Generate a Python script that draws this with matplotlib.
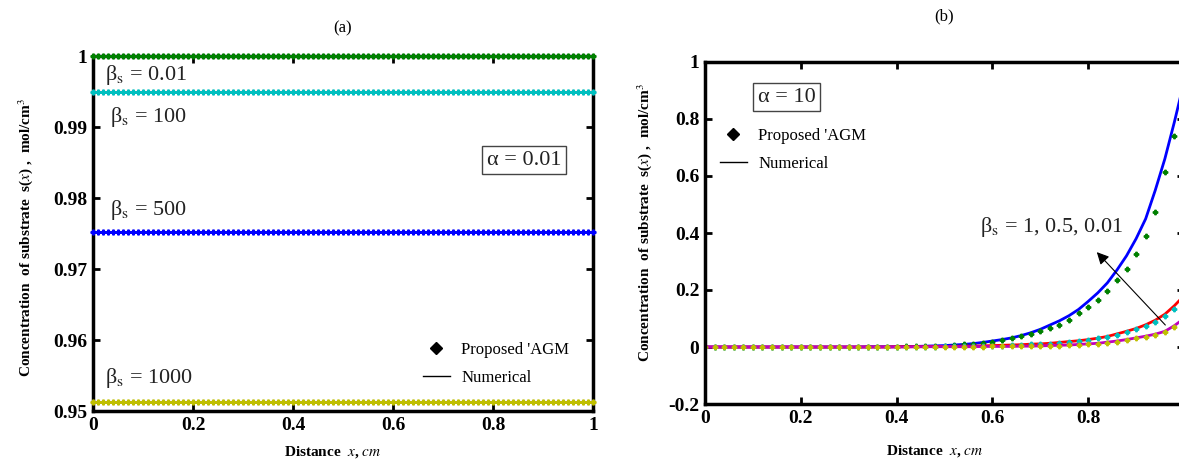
import numpy as np
import matplotlib.pyplot as plt
from matplotlib.lines import Line2D

plt.rcParams['font.family'] = ['Liberation Serif', 'DejaVu Serif']
plt.rcParams['mathtext.fontset'] = 'stix'

# Panel (a): alpha = 0.01, constant profiles for each beta_s
levels_a = [1.0, 0.995, 0.9752, 0.9513]
line_cols_a = ['b', 'r', 'b', 'm']
mark_cols_a = ['g', 'c', 'b', 'y']
labels_a = ['β$_\\mathrm{s}$ = 0.01', 'β$_\\mathrm{s}$ = 100', 'β$_\\mathrm{s}$ = 500', 'β$_\\mathrm{s}$ = 1000']
label_pos_a = [(0.024, 0.9973), (0.034, 0.9914), (0.034, 0.9783), (0.024, 0.9547)]

# Panel (b): alpha = 10, x from 0 to 1 in steps of 0.02
x_b = np.linspace(0, 1, 51)
num_b1 = [0.0]*17 + [0.001, 0.001, 0.001, 0.001, 0.002, 0.002, 0.003, 0.004, 0.005, 0.007,
                     0.009, 0.012, 0.016, 0.021, 0.026, 0.032, 0.040, 0.050, 0.062, 0.077,
                     0.092, 0.110, 0.132, 0.160, 0.190, 0.225, 0.270, 0.320, 0.380, 0.450,
                     0.550, 0.660, 0.790, 0.930]
agm_b1 = [0.0]*19 + [0.001, 0.001, 0.002, 0.002, 0.003, 0.004, 0.005, 0.007, 0.009, 0.011,
                     0.015, 0.019, 0.024, 0.030, 0.037, 0.046, 0.056, 0.067, 0.078, 0.093,
                     0.118, 0.140, 0.165, 0.198, 0.235, 0.275, 0.328, 0.390, 0.475, 0.615,
                     0.740, 0.870]
num_b05 = [0.0]*20 + [0.001, 0.001, 0.001, 0.001, 0.002, 0.002, 0.002, 0.003, 0.003, 0.004,
                      0.005, 0.006, 0.007, 0.008, 0.010, 0.011, 0.013, 0.016, 0.019, 0.022,
                      0.026, 0.031, 0.037, 0.046, 0.055, 0.065, 0.078, 0.094, 0.115, 0.145,
                      0.180]
agm_b05 = [0.0]*20 + [0.001, 0.001, 0.001, 0.001, 0.001, 0.002, 0.002, 0.002, 0.003, 0.003,
                      0.004, 0.005, 0.006, 0.007, 0.009, 0.010, 0.012, 0.015, 0.018, 0.021,
                      0.025, 0.030, 0.035, 0.043, 0.052, 0.062, 0.074, 0.089, 0.108, 0.135,
                      0.165]
num_b001 = [0.0]*20 + [0.000, 0.000, 0.001, 0.001, 0.001, 0.001, 0.001, 0.001, 0.001, 0.002,
                       0.002, 0.002, 0.002, 0.003, 0.003, 0.004, 0.005, 0.006, 0.007, 0.009,
                       0.011, 0.013, 0.017, 0.021, 0.026, 0.032, 0.038, 0.045, 0.055, 0.075,
                       0.100]
agm_b001 = [0.0]*20 + [0.000, 0.000, 0.000, 0.001, 0.001, 0.001, 0.001, 0.001, 0.001, 0.001,
                       0.002, 0.002, 0.002, 0.002, 0.003, 0.003, 0.004, 0.005, 0.006, 0.008,
                       0.010, 0.012, 0.015, 0.019, 0.024, 0.030, 0.036, 0.043, 0.052, 0.071,
                       0.095]

fig = plt.figure(figsize=(11.79, 4.61), dpi=100)
W, H = 1179, 461

def place(x0, x1, y0, y1):
    # pixel box -> figure fraction
    return [x0/W, 1 - y1/H, (x1 - x0)/W, (y1 - y0)/H]

def style(ax):
    for s in ax.spines.values():
        s.set_linewidth(2.5)
    ax.tick_params(direction='in', top=True, right=True, length=5, width=2,
                   labelsize=14, pad=4)
    for t in ax.get_xticklabels() + ax.get_yticklabels():
        t.set_fontweight('bold')

ylab = r'Concentration  of substrate  s($x$) ,  mol/cm$^{3}$'
xlab = r'Distance  $x$, $cm$'
txt_col = '#222222'

# ---------------- panel (a)
axa = fig.add_axes(place(93, 593, 56, 411))
x_a = np.linspace(0, 1, 101)
for lev, lc, mc in zip(levels_a, line_cols_a, mark_cols_a):
    axa.plot(x_a, np.full_like(x_a, lev), color=lc, lw=1.5, clip_on=False, zorder=3)
    axa.plot(x_a, np.full_like(x_a, lev), ls='none', marker='P', ms=3.5, color=mc,
             clip_on=False, zorder=4)
for lab, (tx, ty) in zip(labels_a, label_pos_a):
    axa.text(tx, ty, lab, fontsize=16, va='center', ha='left', color=txt_col)
axa.text(0.862, 0.98535, 'α = 0.01', fontsize=16, ha='center', va='center', color=txt_col,
         bbox=dict(boxstyle='square,pad=0.2', fc='white', ec='#444444', lw=1))
axa.set_xlim(0, 1)
axa.set_ylim(0.95, 1.0)
axa.set_xticks([0, 0.2, 0.4, 0.6, 0.8, 1])
axa.set_xticklabels(['0', '0.2', '0.4', '0.6', '0.8', '1'])
axa.set_yticks([0.95, 0.96, 0.97, 0.98, 0.99, 1])
axa.set_yticklabels(['0.95', '0.96', '0.97', '0.98', '0.99', '1'])
style(axa)
axa.set_ylabel(ylab, fontsize=11, fontweight='bold')
axa.yaxis.set_label_coords(-0.116, 0.49)
axa.set_xlabel(xlab, fontsize=11, fontweight='bold')
axa.xaxis.set_label_coords(0.48, -0.092)
axa.set_title('(a)', fontsize=12, pad=17)

handles = [Line2D([], [], color='k', marker='D', ls='none', ms=6, label="Proposed 'AGM"),
           Line2D([], [], color='k', lw=1, label='Numerical')]
axa.legend(handles=handles, frameon=False, loc='upper left', bbox_to_anchor=(0.63, 0.237),
           fontsize=12, handlelength=1.6, handletextpad=0.7, labelspacing=0.7)

# ---------------- panel (b)  (right edge runs past the picture, as in the source)
axb = fig.add_axes(place(705, 1184, 62, 404))
axb.plot(x_b, num_b1, color='b', lw=2)
axb.plot(x_b, agm_b1, ls='none', marker='P', ms=3.2, color='g')
axb.plot(x_b, num_b05, color='r', lw=2)
axb.plot(x_b, agm_b05, ls='none', marker='P', ms=3.2, color='c')
axb.plot(x_b, num_b001, color='m', lw=2)
axb.plot(x_b, agm_b001, ls='none', marker='P', ms=3.2, color='y')
axb.annotate('', xy=(0.814, 0.34), xytext=(0.965, 0.07),
             arrowprops=dict(arrowstyle='-|>', color='k', lw=0.8, mutation_scale=18))
axb.text(0.574, 0.42, 'β$_\\mathrm{s}$ = 1, 0.5, 0.01', fontsize=16, ha='left', va='center',
         color=txt_col)
axb.text(0.17, 0.877, 'α = 10', fontsize=16, ha='center', va='center', color=txt_col,
         bbox=dict(boxstyle='square,pad=0.2', fc='white', ec='#444444', lw=1))
axb.set_xlim(0, 1)
axb.set_ylim(-0.2, 1.0)
axb.set_xticks([0, 0.2, 0.4, 0.6, 0.8, 1])
axb.set_xticklabels(['0', '0.2', '0.4', '0.6', '0.8', ''])
axb.set_yticks([-0.2, 0, 0.2, 0.4, 0.6, 0.8, 1])
axb.set_yticklabels(['-0.2', '0', '0.2', '0.4', '0.6', '0.8', '1'])
style(axb)
axb.set_ylabel(ylab, fontsize=11, fontweight='bold')
axb.yaxis.set_label_coords(-0.107, 0.53)
axb.set_xlabel(xlab, fontsize=11, fontweight='bold')
axb.xaxis.set_label_coords(0.48, -0.115)
axb.set_title('(b)', fontsize=12, pad=30)
axb.legend(handles=handles, frameon=False, loc='upper left', bbox_to_anchor=(0.0, 0.85),
           fontsize=12, handlelength=1.6, handletextpad=0.7, labelspacing=0.7)

fig.savefig('out.png', dpi=100)
